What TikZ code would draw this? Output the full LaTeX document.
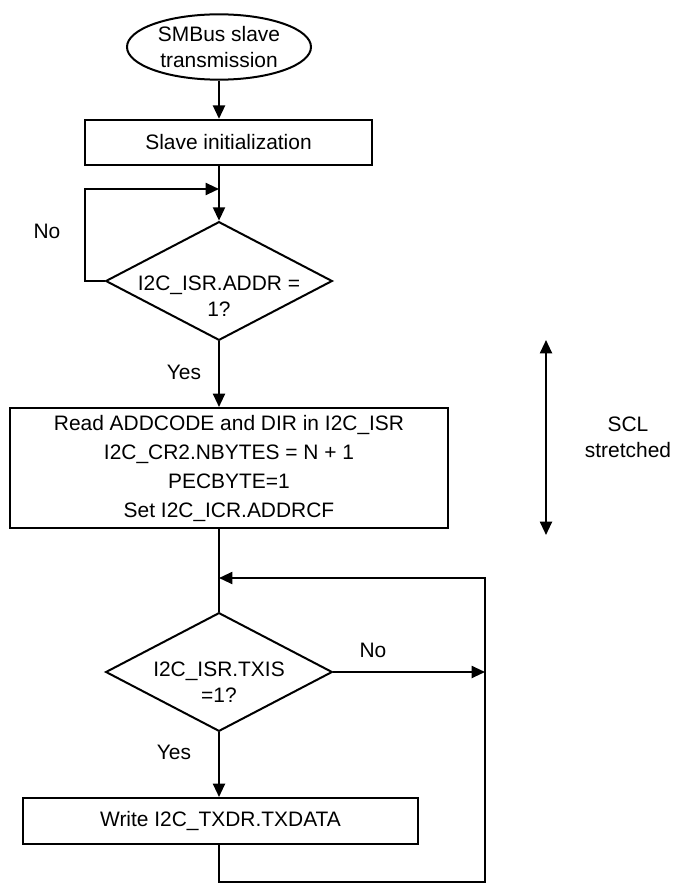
\documentclass[tikz,border=0pt]{standalone}
\usepackage{fontspec}
\setmainfont{Liberation Sans}
\usetikzlibrary{shapes.geometric,arrows.meta}
\begin{document}
\begin{tikzpicture}
  [x=0.75pt,y=-0.75pt,line width=1.5pt,
   >={Triangle[width=9pt,length=10pt]},
   every node/.style={font=\fontsize{15.7}{19.5}\selectfont,align=center,inner sep=0pt},
   term/.style={draw,ellipse,minimum width=138pt,minimum height=49pt},
   proc/.style={draw,rectangle,minimum height=34pt},
   decision/.style={draw,diamond,minimum width=170pt,minimum height=89pt}]
  \useasboundingbox (0,0) rectangle (675,884);
  \node[term] (start) at (219,47) {SMBus slave\\transmission};
  \node[proc,minimum width=215pt] (init) at (228.5,142.5) {Slave initialization};
  \node[decision] (addr) at (219,281) {};
  \node (addrtxt) at (219,296) {I2C\_ISR.ADDR =\\1?};
  \node[proc,minimum width=328.5pt,minimum height=90pt,
        font=\fontsize{15.7}{21.75}\selectfont] (read) at (229,468)
    {Read ADDCODE and DIR in I2C\_ISR\\I2C\_CR2.NBYTES = N + 1\\PECBYTE=1\\Set I2C\_ICR.ADDRCF};
  \node[decision] (txis) at (219,672) {};
  \node (txistxt) at (219,682) {I2C\_ISR.TXIS\\=1?};
  \node[proc,minimum width=296pt,minimum height=34.5pt] (write) at (220.5,821) {Write I2C\_TXDR.TXDATA};
  \node (no1) at (47,231) {No};
  \node (yes1) at (184,372) {Yes};
  \node (no2) at (373,650) {No};
  \node (yes2) at (174,752) {Yes};
  \node (scl) at (628,437) {SCL\\stretched};
  \coordinate (loop) at (85,189);
  \coordinate (rtop) at (485,578);
  \coordinate (rbot) at (485,882);
  \coordinate (scltop) at (546,340);
  \coordinate (sclbot) at (546,535);
  \draw[->] (start.south) -- (start.south |- init.north);
  \draw[->] (init.south -| addr.north) -- (addr.north);
  \draw[->] (addr.west) -| (loop) -- (loop -| addr.north);
  \draw[->] (addr.south) -- (addr.south |- read.north);
  \draw (read.south -| txis.north) -- (txis.north);
  \draw[->] (txis.east) -- (txis.east -| rtop);
  \draw[->] (txis.south) -- (txis.south |- write.north);
  \draw[->] (write.south -| txis.south) |- (rbot) -- (rtop) -- (rtop -| txis.north);
  \draw[<->] (scltop) -- (sclbot);
\end{tikzpicture}
\end{document}
